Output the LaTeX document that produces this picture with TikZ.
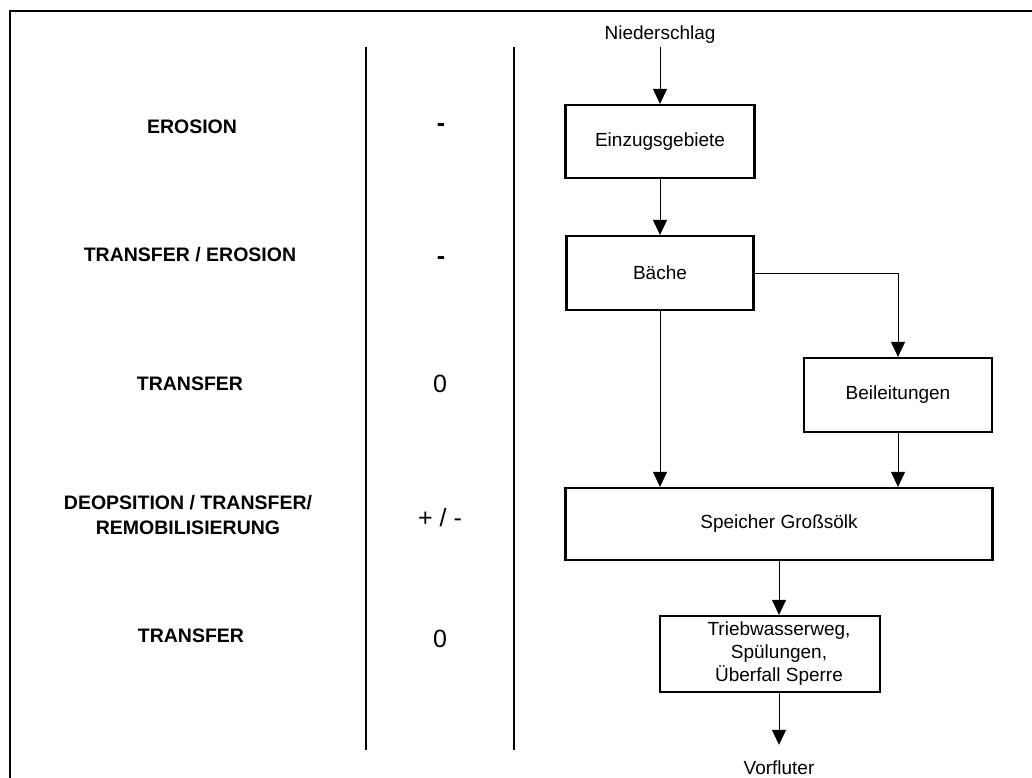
\documentclass[tikz,border=0pt]{standalone}
\usepackage{fontspec}
\setmainfont{Liberation Sans}
\usetikzlibrary{arrows.meta}
\begin{document}
\begin{tikzpicture}[x=1pt,y=-1pt,
  flow/.style={font=\fontsize{19}{23}\selectfont},
  box/.style={flow, draw, line width=2.2pt, inner sep=0pt, align=center},
  link/.style={line width=1pt, -{Triangle[length=15pt,width=14pt]}},
  process/.style={font=\fontsize{19.5}{25}\selectfont\bfseries, anchor=base, align=center},
  balance/.style={font=\fontsize{25}{30}\selectfont, anchor=base},
  loss/.style={balance, font=\fontsize{25}{30}\selectfont\bfseries},
  divider/.style={line width=2pt},
]
\useasboundingbox (0,0) rectangle (1032,778);

% outer frame (left and top edges)
\draw[line width=2.6pt, line join=miter] (10,778) -- (10,11) -- (1032,11);

% column dividers
\draw[divider] (366,47) -- (366,750);
\draw[divider] (514,47) -- (514,750);

% process column
\node[process] (l1) at (192,134) {EROSION};
\node[process] (l2) at (190,261) {TRANSFER / EROSION};
\node[process] (l3) at (190,390) {TRANSFER};
\node[process, anchor=center] (l4) at (188,515) {DEOPSITION / TRANSFER/\\REMOBILISIERUNG};
\node[process] (l5) at (191,642) {TRANSFER};

% balance column
\node[loss] (b1) at (441,132) {-};
\node[loss] (b2) at (441,264) {-};
\node[balance] (b3) at (440,392) {0};
\node[balance] (b4) at (440,526) {+ / -};
\node[balance] (b5) at (440,647) {0};

% flow chart
\node[flow, anchor=base, inner ysep=3pt, text depth=4pt] (rain) at (660,40) {Niederschlag};
\node[box, minimum width=189pt, minimum height=73pt] (ezg) at (660,141.5) {Einzugsgebiete};
\node[box, minimum width=187pt, minimum height=74pt] (brooks) at (660,273) {Bäche};
\node[box, minimum width=188pt, minimum height=74pt] (feeds) at (898,395) {Beileitungen};
\node[box, minimum width=427pt, minimum height=72pt] (store) at (779,524) {Speicher Großsölk};
\node[box, minimum width=220pt, minimum height=76pt] (outlets) at (770,654) {};
\node[flow, align=center] (outtext) at (779,654) {Triebwasserweg,\\Spülungen,\\Überfall Sperre};
\node[flow, anchor=base, inner ysep=15pt, text height=14pt] (sink) at (779,774) {Vorfluter};

\draw[link] (rain.south) -- (rain.south |- ezg.north);
\draw[link] (ezg.south) -- (brooks.north);
\draw[link] (brooks.east) -| (feeds.north);
\draw[link] (brooks.south) -- (brooks.south |- store.north);
\draw[link] (feeds.south) -- (feeds.south |- store.north);
\draw[link] (store.south) -- (store.south |- outlets.north);
\draw[link] (outtext |- outlets.south) -- (sink.north);
\end{tikzpicture}
\end{document}
